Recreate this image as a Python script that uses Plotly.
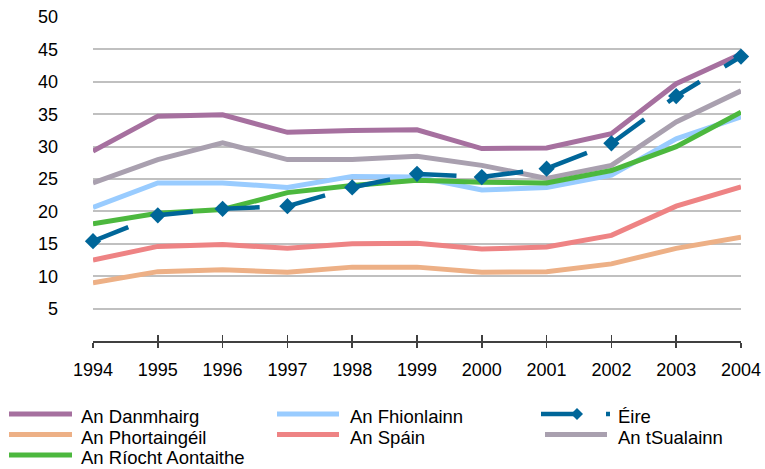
import plotly.graph_objects as go

# ---------------- data ----------------
years = [1994, 1995, 1996, 1997, 1998, 1999, 2000, 2001, 2002, 2003, 2004]
y_ticks = [5, 10, 15, 20, 25, 30, 35, 40, 45, 50]

danmhairg = [29.3, 34.7, 34.9, 32.2, 32.5, 32.6, 29.7, 29.8, 32.0, 39.7, 44.3]
fhionlainn = [20.6, 24.4, 24.4, 23.7, 25.4, 25.3, 23.3, 23.7, 25.6, 31.2, 34.6]
eire = [15.4, 19.4, 20.4, 20.8, 23.7, 25.8, 25.3, 26.6, 30.5, 37.8, 43.9]
phortaingeil = [9.0, 10.7, 11.0, 10.6, 11.4, 11.4, 10.6, 10.7, 11.9, 14.3, 16.0]
spain = [12.5, 14.6, 14.9, 14.3, 15.0, 15.1, 14.2, 14.5, 16.3, 20.8, 23.8]
tsualainn = [24.4, 28.0, 30.6, 28.0, 28.0, 28.5, 27.1, 25.1, 27.1, 33.8, 38.6]
riocht = [18.1, 19.7, 20.3, 22.9, 24.0, 24.8, 24.5, 24.4, 26.3, 30.0, 35.3]

names = ["An Danmhairg", "An Fhionlainn", "Éire", "An Phortaingéil",
         "An Spáin", "An tSualainn", "An Ríocht Aontaithe"]
values = [danmhairg, fhionlainn, eire, phortaingeil, spain, tsualainn, riocht]

# ---------------- styles ----------------
colors = {
    "An Danmhairg": "#A6709F",
    "An Fhionlainn": "#99CCFF",
    "Éire": "#006699",
    "An Phortaingéil": "#EDB086",
    "An Spáin": "#EE8384",
    "An tSualainn": "#A9A0AF",
    "An Ríocht Aontaithe": "#4CB83E",
}
FONT = "Liberation Sans, Arial, sans-serif"

# plot-area geometry in pixels (for legend placement)
W, H = 765, 469
L, R, T, B = 93, 24, 17, 128
PW, PH = W - L - R, H - T - B


def px_x(x):
    return (x - L) / PW


def px_y(y):
    return (H - B - y) / PH


fig = go.Figure()

# draw solid lines first, then Éire on top
order = [0, 1, 3, 4, 5, 6, 2]
for i in order:
    name = names[i]
    # one trace on the overlay x-axis so its crossing tick marks are drawn
    xa = "x2" if name == "An Phortaingéil" else "x"
    if name == "Éire":
        fig.add_trace(go.Scatter(
            x=years, y=values[i], name=name, mode="lines+markers",
            line=dict(color=colors[name], width=4.5, dash="38px,29px"),
            marker=dict(symbol="diamond", size=12.5, color=colors[name]),
            cliponaxis=False, showlegend=False, xaxis=xa))
    else:
        fig.add_trace(go.Scatter(
            x=years, y=values[i], name=name, mode="lines",
            line=dict(color=colors[name], width=5),
            cliponaxis=False, showlegend=False, xaxis=xa))

# ---------------- manual legend (Excel style, 3 columns) ----------------
col_line = [(9, 72), (277, 339), (545, 607)]
col_text = [79, 348, 616]
row_y = [414, 434.5, 455]
shapes = []
annotations = []
for k, name in enumerate(names):
    r, c = divmod(k, 3)
    x0, x1 = col_line[c]
    yy = row_y[r]
    col = colors[name]
    if name == "Éire":
        x0e, x1e = 541, 577
        shapes.append(dict(type="line", xref="paper", yref="paper",
                           x0=px_x(x0e), x1=px_x(x1e), y0=px_y(yy), y1=px_y(yy),
                           line=dict(color=col, width=4.5)))
        shapes.append(dict(type="path", xref="paper", yref="paper",
                           xsizemode="pixel", ysizemode="pixel",
                           xanchor=px_x(x1e), yanchor=px_y(yy),
                           path="M -6 0 L 0 6 L 6 0 L 0 -6 Z",
                           fillcolor=col, line=dict(width=0)))
        shapes.append(dict(type="line", xref="paper", yref="paper",
                           x0=px_x(606), x1=px_x(610), y0=px_y(yy), y1=px_y(yy),
                           line=dict(color=col, width=4.5)))
    else:
        shapes.append(dict(type="line", xref="paper", yref="paper",
                           x0=px_x(x0), x1=px_x(x1), y0=px_y(yy), y1=px_y(yy),
                           line=dict(color=col, width=5)))
    annotations.append(dict(text=name, xref="paper", yref="paper",
                            x=px_x(col_text[c]), y=px_y(yy + 2.5),
                            xanchor="left", yanchor="middle", showarrow=False,
                            font=dict(family=FONT, size=18.5, color="#000000")))

fig.update_layout(
    width=W, height=H,
    margin=dict(l=L, r=R, t=T, b=B, pad=0, autoexpand=False),
    paper_bgcolor="white", plot_bgcolor="white",
    font=dict(family=FONT, size=18, color="#000000"),
    showlegend=False,
    shapes=shapes,
    annotations=annotations,
    xaxis=dict(range=[1994, 2004], tickvals=years, ticktext=[str(y) for y in years],
               showgrid=False, zeroline=False, showline=True, automargin=False,
               linecolor="#404040", linewidth=1.5,
               ticks="outside", ticklen=5, tickwidth=1.5, tickcolor="#404040",
               tickfont=dict(size=18), ticklabelstandoff=7),
    xaxis2=dict(range=[1994, 2004], tickvals=years, overlaying="x", anchor="y",
                showgrid=False, zeroline=False, showline=False, automargin=False,
                ticks="inside", ticklen=6, tickwidth=1.5, tickcolor="#404040",
                showticklabels=False),
    yaxis=dict(range=[0, 50], tickvals=y_ticks, showgrid=True, automargin=False,
               gridcolor="#C0C0C0", gridwidth=2, zeroline=False, showline=False,
               ticks="", tickfont=dict(size=18), ticklabelstandoff=34),
)

fig.write_html("out.html",
               config={"displayModeBar": False, "staticPlot": True},
               post_script="document.body.style.margin='0';document.body.style.overflow='hidden';")
